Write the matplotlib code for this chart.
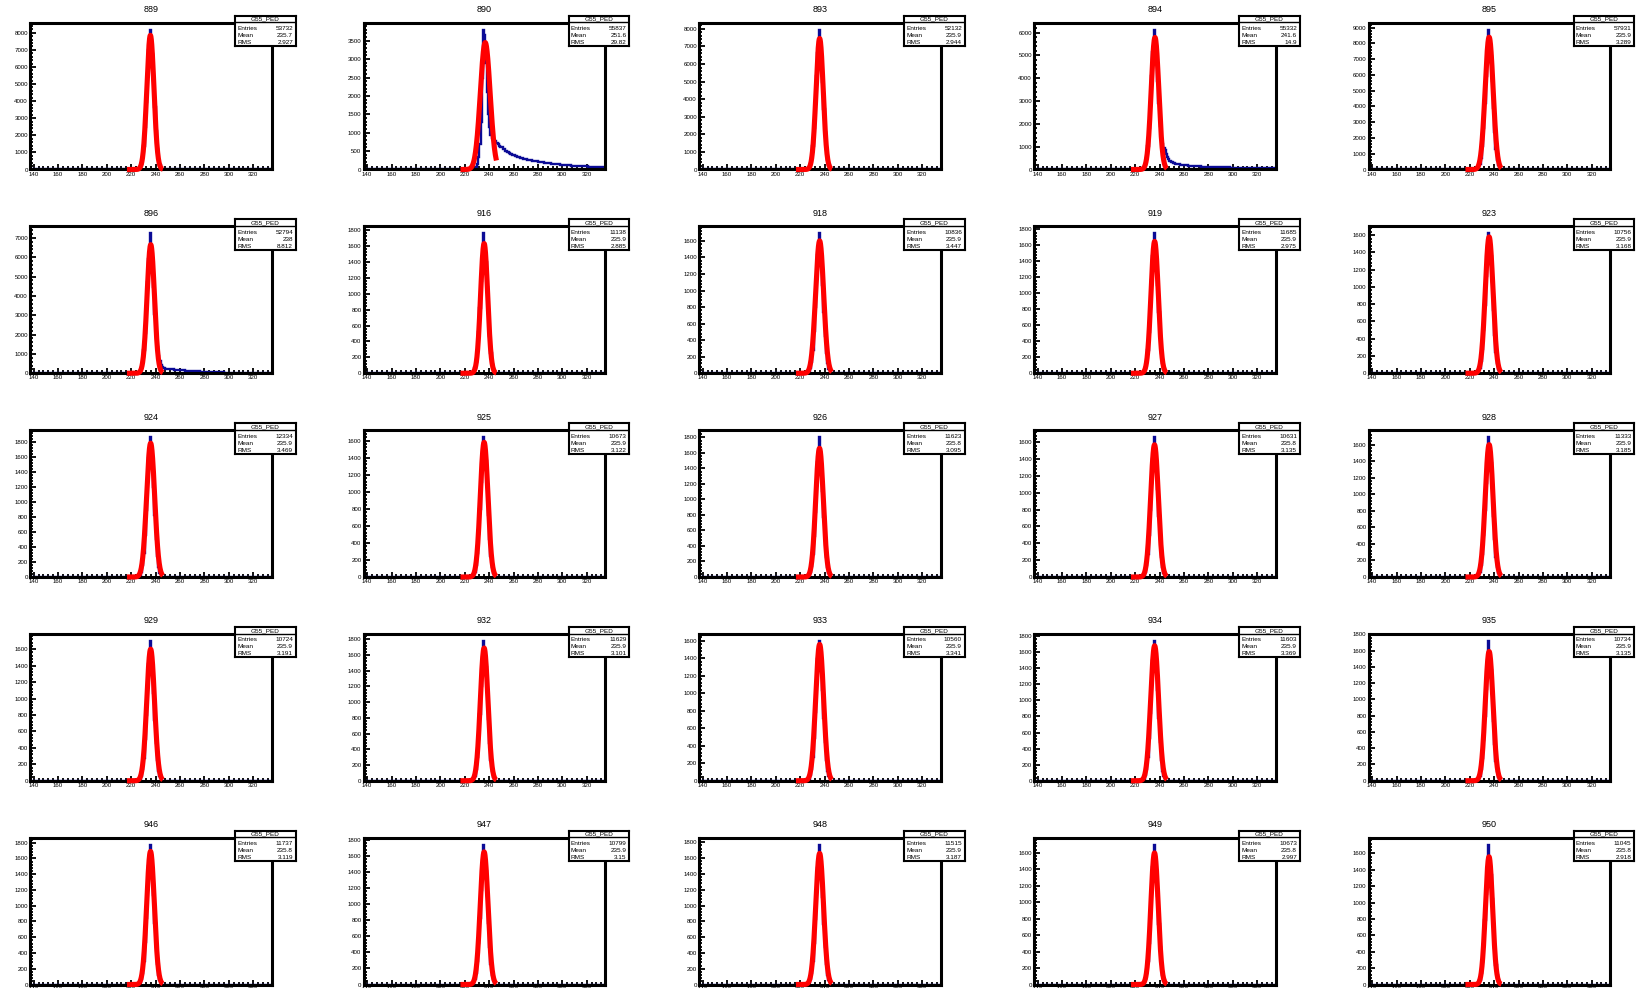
import numpy as np
import matplotlib
matplotlib.use('Agg')
import matplotlib.pyplot as plt
from matplotlib.ticker import MultipleLocator, MaxNLocator, AutoMinorLocator

plt.rcParams['font.family'] = ['Liberation Sans', 'DejaVu Sans']

# channel numbers and the stat box values
channels = [889, 890, 893, 894, 895, 896, 916, 918, 919, 923, 924, 925, 926,
            927, 928, 929, 932, 933, 934, 935, 946, 947, 948, 949, 950]
entries = [53732, 55837, 52132, 55332, 57931, 52794, 11138, 10836, 11685, 10756,
           12334, 10673, 11623, 10631, 11333, 10724, 11629, 10560, 11603, 10734,
           11737, 10799, 11515, 10673, 11045]
means = [235.7, 251.6, 235.9, 241.6, 235.9, 238, 235.9, 235.9, 235.9, 235.9,
         235.9, 235.9, 235.8, 235.8, 235.9, 235.9, 235.9, 235.9, 235.9, 235.9,
         235.8, 235.9, 235.9, 235.8, 235.8]
rms = [2.927, 29.82, 2.944, 14.9, 3.289, 8.812, 2.885, 3.447, 2.975, 3.168,
       3.469, 3.122, 3.095, 3.135, 3.185, 3.191, 3.101, 3.341, 3.369, 3.135,
       3.119, 3.15, 3.187, 2.997, 2.918]

# gaussian fit parameters (red curves)
fit_const = [7850, 3450, 7450, 5790, 8400, 6650, 1630, 1600, 1650, 1580, 1780, 1580, 1660,
             1570, 1600, 1600, 1690, 1560, 1680, 1590, 1690, 1650, 1660, 1600, 1560]
fit_mean = [235.7, 236.8, 235.9, 236.2, 235.9, 236.0, 235.9, 235.9, 235.9, 235.9, 235.9, 235.9, 235.8,
            235.8, 235.9, 235.9, 235.9, 235.9, 235.9, 235.9, 235.8, 235.9, 235.9, 235.8, 235.8]
fit_sigma = [2.93, 4.0, 2.94, 3.1, 3.29, 3.0, 2.89, 3.3, 2.98, 3.17, 3.3, 3.12, 3.1,
             3.14, 3.19, 3.19, 3.1, 3.25, 3.25, 3.14, 3.12, 3.15, 3.19, 3.0, 2.92]
fit_lo, fit_hi = 216.5, 246.0

# histogram: bins of width 1 from 137 to 335
x_lo, x_hi = 137, 335
peak_start = 227   # first bin of the peak lists
tail_start = 244   # first bin of the tail lists

peak_counts = [
    [118, 306, 691, 1389, 2481, 3949, 5574, 6987, 8180, 7300, 6743, 5252, 3635, 2229, 1217, 589, 251],
    [5, 20, 60, 150, 350, 700, 1300, 2500, 3800, 3650, 2900, 2100, 1500, 1150, 950, 850, 800],
    [112, 291, 656, 1319, 2354, 3747, 5290, 6631, 7950, 6930, 6400, 4984, 3449, 2116, 1155, 559, 238],
    [87, 226, 510, 1025, 1830, 2912, 4111, 5153, 6130, 5385, 4974, 3874, 2900, 1900, 1350, 1100, 950],
    [126, 328, 739, 1487, 2654, 4225, 5964, 7476, 8875, 7812, 7216, 5620, 3889, 2386, 1302, 630, 269],
    [100, 259, 585, 1177, 2101, 3345, 4722, 5919, 7230, 6185, 5712, 4449, 3079, 2050, 1350, 900, 620],
    [24, 64, 143, 289, 515, 820, 1157, 1451, 1757, 1516, 1400, 1090, 755, 463, 253, 122, 52],
    [24, 62, 141, 283, 506, 805, 1136, 1424, 1690, 1488, 1374, 1070, 741, 454, 248, 120, 51],
    [25, 64, 145, 292, 521, 830, 1172, 1469, 1750, 1535, 1417, 1104, 764, 469, 256, 124, 53],
    [24, 62, 139, 280, 499, 795, 1122, 1406, 1620, 1469, 1357, 1057, 732, 449, 245, 119, 51],
    [27, 69, 157, 315, 562, 895, 1264, 1584, 1860, 1655, 1529, 1191, 824, 506, 276, 134, 57],
    [23, 61, 140, 279, 500, 793, 1120, 1405, 1640, 1470, 1355, 1058, 730, 450, 244, 118, 50],
    [25, 65, 146, 294, 525, 835, 1179, 1477, 1803, 1544, 1426, 1111, 769, 471, 257, 125, 53],
    [24, 61, 138, 278, 496, 790, 1115, 1397, 1660, 1460, 1349, 1050, 727, 446, 243, 118, 50],
    [23, 63, 140, 284, 505, 806, 1135, 1425, 1690, 1490, 1372, 1071, 740, 455, 247, 121, 50],
    [24, 62, 142, 282, 507, 804, 1137, 1423, 1700, 1487, 1375, 1069, 742, 453, 249, 119, 52],
    [25, 66, 149, 299, 534, 850, 1200, 1504, 1780, 1572, 1452, 1131, 782, 480, 262, 127, 54],
    [23, 61, 137, 276, 493, 785, 1108, 1388, 1600, 1451, 1340, 1044, 722, 443, 242, 117, 50],
    [25, 66, 148, 297, 531, 845, 1193, 1495, 1740, 1562, 1443, 1124, 778, 477, 260, 126, 54],
    [24, 62, 140, 281, 502, 800, 1129, 1415, 1720, 1479, 1366, 1064, 736, 452, 246, 119, 51],
    [26, 65, 150, 298, 535, 849, 1201, 1503, 1775, 1571, 1453, 1130, 783, 479, 263, 126, 55],
    [24, 65, 144, 293, 520, 831, 1171, 1470, 1740, 1534, 1418, 1103, 765, 468, 257, 123, 52],
    [26, 64, 147, 293, 526, 834, 1180, 1476, 1770, 1545, 1425, 1112, 768, 472, 256, 126, 52],
    [25, 61, 141, 284, 505, 806, 1135, 1425, 1700, 1489, 1373, 1071, 740, 455, 248, 120, 51],
    [23, 60, 138, 275, 494, 784, 1109, 1387, 1707, 1450, 1341, 1043, 723, 442, 243, 118, 49],
]

# long tails above the pedestal (bins 244..334)
tail_890 = [780, 770, 720, 685, 650, 622, 598, 570, 545, 510,
            492, 468, 455, 432, 414, 402, 384, 372, 358, 346,
            336, 324, 317, 303, 296, 288, 281, 270, 266, 257,
            251, 244, 239, 231, 226, 219, 216, 209, 206, 199,
            196, 189, 187, 180, 177, 171, 169, 162, 159, 153,
            151, 145, 143, 137, 135, 129, 128, 123, 122, 117,
            116, 111, 111, 106, 106, 101, 101, 97, 97, 93,
            93, 89, 89, 85, 85, 82, 82, 78, 79, 75,
            76, 72, 73, 70, 71, 67, 68, 65, 66, 63, 64]
tail_894 = [850, 700, 560, 460, 390, 350, 320, 295, 275, 260,
            245, 235, 225, 215, 205, 198, 190, 184, 178, 172,
            167, 162, 158, 154, 150, 146, 143, 140, 137, 134,
            131, 128, 126, 123, 121, 119, 117, 115, 113, 111,
            109, 107, 105, 103, 101, 100, 98, 96, 95, 93,
            92, 90, 89, 88, 86, 85, 84, 82, 81, 80,
            79, 78, 77, 76, 75, 74, 73, 72, 71, 70,
            69, 68, 67, 66, 65, 64, 63, 62, 61, 60,
            59, 58, 57, 56, 56, 55, 54, 53, 52, 52, 51]
tail_896 = [450, 340, 290, 260, 245, 232, 222, 213, 205, 198,
            195, 190, 185, 180, 174, 168, 162, 156, 150, 145,
            140, 135, 130, 125, 120, 116, 112, 108, 104, 100,
            96, 92, 88, 85, 82, 79, 76, 73, 70, 67,
            64, 61, 58, 56, 54, 52, 50, 48, 46, 44,
            42, 40, 38, 37, 36, 35, 34, 33, 32, 31,
            30, 29, 28, 27, 26, 25, 24, 23, 22, 21,
            20, 20, 19, 18, 18, 17, 16, 16, 15, 15,
            14, 14, 13, 13, 12, 12, 11, 11, 10, 10, 10]
tails = {890: tail_890, 894: tail_894, 896: tail_896}

hist_color = '#0b0b96'
fit_color = '#ff0000'

W, H = 1641, 988
fig = plt.figure(figsize=(W / 100, H / 100), dpi=100)


def rect(x, y_top, w, h):
    # pixel box (from top-left) -> figure fraction
    return [x / W, 1 - (y_top + h) / H, w / W, h / H]


col_left = [30.0, 363.5, 699.0, 1034.0, 1368.5]
frame_w, frame_h = 241.5, 146.8
edges = np.arange(x_lo, x_hi + 1)

for i, ch in enumerate(channels):
    r, c = divmod(i, 5)
    left = col_left[c]
    top = 22.7 + 203.75 * r

    counts = np.zeros(len(edges) - 1)
    p0 = peak_start - x_lo
    counts[p0:p0 + len(peak_counts[i])] = peak_counts[i]
    if ch in tails:
        t0 = tail_start - x_lo
        counts[t0:t0 + len(tails[ch])] = tails[ch]

    ax = fig.add_axes(rect(left, top, frame_w, frame_h))
    ax.stairs(counts, edges, color=hist_color, lw=1.7, zorder=2)

    xf = np.linspace(fit_lo, fit_hi, 300)
    yf = fit_const[i] * np.exp(-0.5 * ((xf - fit_mean[i]) / fit_sigma[i]) ** 2)
    ax.plot(xf, yf, color=fit_color, lw=3.7, zorder=3, clip_on=False,
            solid_capstyle='butt')

    ax.set_xlim(x_lo, x_hi)
    ax.set_ylim(0, 1.05 * counts.max())

    ax.xaxis.set_major_locator(MultipleLocator(20))
    ax.xaxis.set_minor_locator(MultipleLocator(4))
    ax.yaxis.set_major_locator(MaxNLocator(nbins=10, steps=[1, 2, 5, 10]))
    ax.yaxis.set_minor_locator(AutoMinorLocator(5))

    ax.tick_params(which='both', direction='in', top=False, right=False,
                   width=1.3, labelsize=4.4, pad=1.5)
    ax.tick_params(axis='x', which='major', length=3.5)
    ax.tick_params(axis='x', which='minor', length=2.0)
    ax.tick_params(axis='y', which='major', length=4.5)
    ax.tick_params(axis='y', which='minor', length=2.5)
    for sp in ax.spines.values():
        sp.set_linewidth(2.2)

    # channel title
    fig.text((left + frame_w / 2) / W, 1 - (top - 13) / H, str(ch),
             ha='center', va='center', fontsize=6.5)

    # stat box
    bw, bh = 60.5, 30.5
    sb = fig.add_axes(rect(left + frame_w - 36.5, top - 7, bw, bh))
    sb.set_xticks([])
    sb.set_yticks([])
    sb.set_xlim(0, bw)
    sb.set_ylim(bh, 0)
    for sp in sb.spines.values():
        sp.set_linewidth(1.5)
    sb.axhline(6.6, color='black', lw=1.0)
    sb.text(bw / 2, 3.6, 'G55_PED', ha='center', va='center', fontsize=4.6)
    rows = [('Entries', f'{entries[i]}'),
            ('Mean', f'{means[i]:.4g}'),
            ('RMS', f'{rms[i]:.4g}')]
    for k, (name, val) in enumerate(rows):
        yy = 13.0 + 7.0 * k
        sb.text(2.0, yy, name, ha='left', va='center', fontsize=4.6)
        sb.text(bw - 2.5, yy, val, ha='right', va='center', fontsize=4.6)

fig.savefig('out.png', dpi=100)
